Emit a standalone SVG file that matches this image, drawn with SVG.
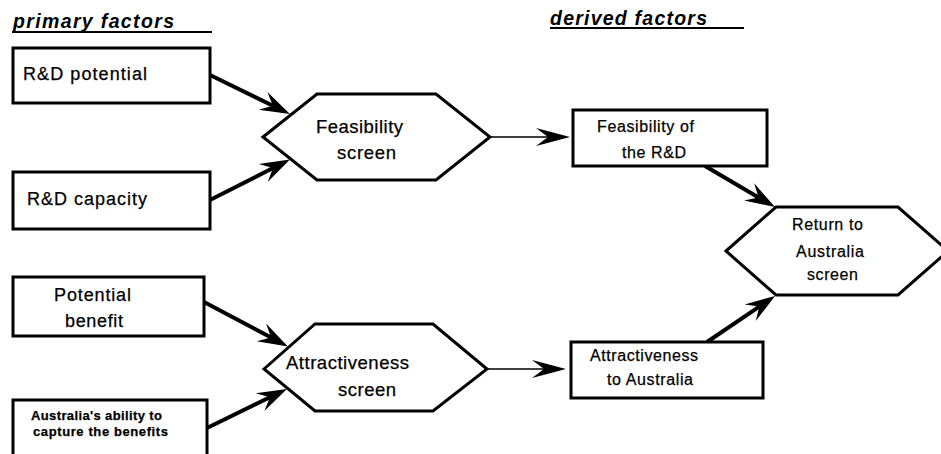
<svg xmlns="http://www.w3.org/2000/svg" width="941" height="454" viewBox="0 0 941 454">
<style>
.box{fill:#fff;stroke:#000;stroke-width:3}
.t{font-family:"Liberation Sans",Arial,sans-serif;fill:#000;stroke:#000;stroke-width:0.25}
.h{font-family:"Liberation Sans",Arial,sans-serif;font-weight:bold;font-style:italic;font-size:19.5px;fill:#000}
.thick{stroke:#000;stroke-width:4;fill:none;marker-end:url(#ah)}
.thin{stroke:#000;stroke-width:1.6;fill:none;marker-end:url(#ahs)}
.ul{stroke:#000;stroke-width:2}
</style>
<defs>
<marker id="ah" markerUnits="userSpaceOnUse" markerWidth="32" markerHeight="24" refX="11" refY="12" orient="auto" viewBox="0 0 32 24">
<path d="M30,12 L0,2 L11,12 L0,22 Z" fill="#000"/>
</marker>
<marker id="ahs" markerUnits="userSpaceOnUse" markerWidth="36" markerHeight="22" refX="12" refY="11" orient="auto" viewBox="0 0 36 22">
<path d="M34,11 L0,2 L12,11 L0,20 Z" fill="#000"/>
</marker>
</defs>
<rect width="941" height="454" fill="#fff"/>
<g id="headers">
<text class="h" x="13" y="28" textLength="161" lengthAdjust="spacing">primary factors</text>
<line class="ul" x1="12" y1="32" x2="212" y2="32"/>
<text class="h" x="550" y="24.5" textLength="157" lengthAdjust="spacing">derived factors</text>
<line class="ul" x1="550" y1="28" x2="744" y2="28"/>
</g>
<g id="connectors">
<line class="thick" x1="210" y1="75" x2="272.9" y2="105.7"/>
<line class="thick" x1="210" y1="200" x2="273" y2="168"/>
<line class="thick" x1="204" y1="302" x2="271.1" y2="337.5"/>
<line class="thick" x1="207" y1="428" x2="269.9" y2="397.3"/>
<line class="thin" x1="490" y1="137" x2="548" y2="137"/>
<line class="thin" x1="487" y1="369" x2="544" y2="369"/>
<line class="thick" x1="705" y1="166" x2="758.6" y2="197.4"/>
<line class="thick" x1="707" y1="342" x2="759.3" y2="306.6"/>
</g>
<g id="rd-potential">
<rect class="box" x="13" y="48" width="197" height="55"/>
<text class="t" x="23" y="80" font-size="18" textLength="124" lengthAdjust="spacing">R&amp;D potential</text>
</g>
<g id="rd-capacity">
<rect class="box" x="13" y="172" width="197" height="57"/>
<text class="t" x="27" y="205" font-size="18" textLength="120" lengthAdjust="spacing">R&amp;D capacity</text>
</g>
<g id="potential-benefit">
<rect class="box" x="13" y="277" width="191" height="59"/>
<text class="t" x="54" y="301" font-size="18" textLength="77" lengthAdjust="spacing">Potential</text>
<text class="t" x="65" y="327" font-size="18" textLength="58" lengthAdjust="spacing">benefit</text>
</g>
<g id="ability">
<rect class="box" x="13" y="400" width="194" height="62"/>
<text class="t" x="31" y="420" font-size="13" font-weight="bold" textLength="131" lengthAdjust="spacing">Australia's ability to</text>
<text class="t" x="33" y="436" font-size="13" font-weight="bold" textLength="135" lengthAdjust="spacing">capture the benefits</text>
</g>
<g id="feasibility-screen">
<polygon class="box" points="263,137 317,94 436,94 490,137 436,180 317,180"/>
<text class="t" x="316" y="133" font-size="18.5" textLength="87" lengthAdjust="spacing">Feasibility</text>
<text class="t" x="337" y="159" font-size="18.5" textLength="59" lengthAdjust="spacing">screen</text>
</g>
<g id="attractiveness-screen">
<polygon class="box" points="264,369 315,324 433,324 487,369 433,411 315,411"/>
<text class="t" x="286" y="369" font-size="18.5" textLength="123" lengthAdjust="spacing">Attractiveness</text>
<text class="t" x="338" y="396" font-size="18.5" textLength="58" lengthAdjust="spacing">screen</text>
</g>
<g id="feasibility-rd">
<rect class="box" x="573" y="110" width="194" height="56"/>
<text class="t" x="597" y="132" font-size="16" textLength="97" lengthAdjust="spacing">Feasibility of</text>
<text class="t" x="622" y="158" font-size="16" textLength="64" lengthAdjust="spacing">the R&amp;D</text>
</g>
<g id="attractiveness-australia">
<rect class="box" x="571" y="342" width="192" height="56"/>
<text class="t" x="590" y="361" font-size="16" textLength="108" lengthAdjust="spacing">Attractiveness</text>
<text class="t" x="607" y="385" font-size="16" textLength="86" lengthAdjust="spacing">to Australia</text>
</g>
<g id="return-screen">
<polygon class="box" points="726,251 776,207 898,207 948,251 898,295 776,295"/>
<text class="t" x="792" y="230" font-size="16" textLength="71" lengthAdjust="spacing">Return to</text>
<text class="t" x="796" y="257" font-size="16" textLength="68" lengthAdjust="spacing">Australia</text>
<text class="t" x="807" y="280" font-size="16" textLength="51" lengthAdjust="spacing">screen</text>
</g>
</svg>
